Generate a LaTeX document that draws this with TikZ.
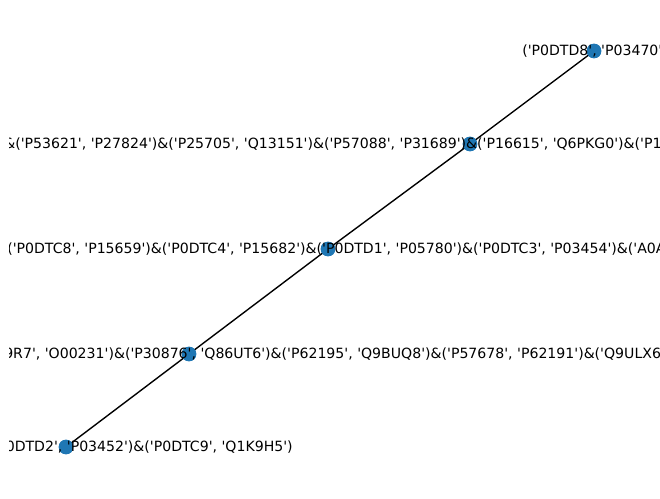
\documentclass[tikz,border=0pt]{standalone}
\usepackage{fontspec}
\setmainfont{DejaVu Sans}[Ligatures=TeXOff]

\begin{document}
\begin{tikzpicture}[x=0.72pt, y=-0.72pt]

\tikzstyle vert=[circle, minimum size=10.5pt, inner sep=0pt, fill={rgb,255:red,31;green,119;blue,180}]
\tikzstyle lbl=[inner sep=0pt, font=\fontsize{10.15}{12}\selectfont, text=black]

\useasboundingbox (0,0) rectangle (660,499);

\node (n1) [vert] at (66,447) {};
\node (n2) [vert] at (189,354) {};
\node (n3) [vert] at (328,249) {};
\node (n4) [vert] at (470,144) {};
\node (n5) [vert] at (594,51)  {};

\foreach \i/\j in {1/2,2/3,3/4,4/5}
{
\draw [line width=1pt] (n\i.center) -- (n\j.center);
}

\foreach \i in {1,...,5}
\node [vert] at (n\i) {};

\begin{scope}
\clip (9.5,0) rectangle (660,499);
\node (l5) [lbl, anchor=west] at (522,51) {('P0DTD8', 'P03470')};
\node (l4) [lbl, anchor=west] at (4,144) {\&('P53621', 'P27824')\&('P25705', 'Q13151')\&('P57088', 'P31689')\&('P16615', 'Q6PKG0')\&('P1};
\node (l3) [lbl, anchor=west] at (7,249) {('P0DTC8', 'P15659')\&('P0DTC4', 'P15682')\&('P0DTD1', 'P05780')\&('P0DTC3', 'P03454')\&('A0A};
\node (l2) [lbl, anchor=west] at (4,354) {9R7', 'O00231')\&('P30876', 'Q86UT6')\&('P62195', 'Q9BUQ8')\&('P57678', 'P62191')\&('Q9ULX6};
\node (l1) [lbl, anchor=east] at (293,447) {P0DTD2', 'P03452')\&('P0DTC9', 'Q1K9H5')};
\end{scope}

\end{tikzpicture}
\end{document}
